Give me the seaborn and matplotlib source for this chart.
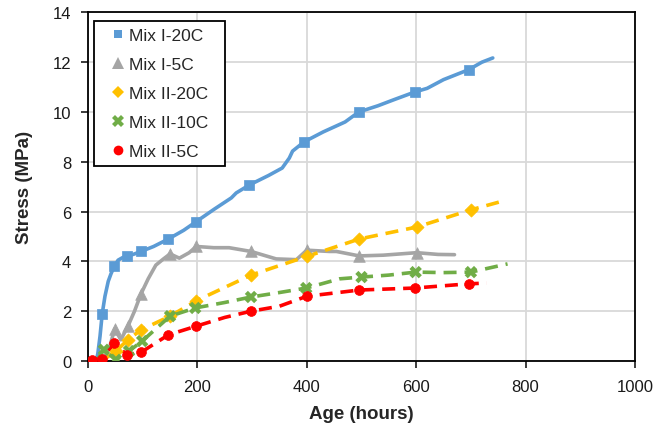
import matplotlib
matplotlib.use("Agg")
import matplotlib.pyplot as plt
from matplotlib.lines import Line2D
import seaborn as sns
import pandas as pd

# ---- data ----
# Mix I-20C (solid curve + square markers)
m1_20_h = [15, 18, 22, 26, 31, 37, 42, 48, 55, 63, 71, 85, 97, 120, 147, 175, 198, 231, 262, 271,
           295, 330, 355, 368, 374, 395, 430, 470, 495, 530, 560, 597, 620, 650, 696, 720, 740]
m1_20_s = [0.0, 0.3, 1.0, 1.9, 2.6, 3.2, 3.5, 3.8, 4.05, 4.15, 4.2, 4.3, 4.4, 4.6, 4.9, 5.25, 5.6, 6.1, 6.55, 6.75,
           7.07, 7.45, 7.75, 8.15, 8.43, 8.8, 9.2, 9.6, 10.0, 10.25, 10.5, 10.8, 10.95, 11.3, 11.7, 12.0, 12.17]
m1_20_mk_h = [26, 48, 71, 97, 147, 198, 295, 395, 495, 597, 696]
m1_20_mk_s = [1.9, 3.8, 4.2, 4.4, 4.9, 5.6, 7.07, 8.8, 10.0, 10.8, 11.7]

# Mix I-5C (solid curve + triangle markers)
m1_5_h = [22, 30, 40, 49, 60, 73, 85, 97, 110, 124, 138, 150, 167, 185, 198, 230, 258, 298, 344, 381,
          400, 441, 454, 496, 540, 601, 640, 670]
m1_5_s = [0.0, 0.15, 0.6, 1.3, 0.85, 1.4, 2.0, 2.7, 3.3, 3.85, 4.1, 4.3, 4.13, 4.35, 4.6, 4.55, 4.55, 4.4, 4.1, 4.07,
          4.45, 4.4, 4.4, 4.22, 4.25, 4.35, 4.28, 4.27]
m1_5_mk_h = [49, 73, 97, 150, 198, 298, 400, 496, 601]
m1_5_mk_s = [1.3, 1.4, 2.7, 4.3, 4.6, 4.4, 4.45, 4.22, 4.35]

# Mix II-20C (dashed + diamond markers)
m2_20_h = [25, 35, 51, 73, 97, 150, 198, 298, 400, 496, 601, 700, 751]
m2_20_s = [0.0, 0.15, 0.4, 0.85, 1.25, 1.8, 2.42, 3.45, 4.2, 4.9, 5.38, 6.07, 6.38]
m2_20_mk_h = [51, 73, 97, 150, 198, 298, 400, 496, 601, 700]
m2_20_mk_s = [0.4, 0.85, 1.25, 1.8, 2.42, 3.45, 4.2, 4.9, 5.38, 6.07]

# Mix II-10C (dashed + x markers)
m2_10_h = [15, 29, 51, 75, 99, 150, 196, 250, 298, 350, 399, 460, 500, 550, 599, 650, 700, 767]
m2_10_s = [0.0, 0.45, 0.05, 0.4, 0.8, 1.8, 2.13, 2.35, 2.57, 2.75, 2.93, 3.3, 3.37, 3.45, 3.57, 3.55, 3.57, 3.9]
m2_10_mk_h = [29, 51, 75, 99, 150, 196, 298, 399, 500, 599, 700]
m2_10_mk_s = [0.45, 0.05, 0.4, 0.8, 1.8, 2.13, 2.57, 2.93, 3.37, 3.57, 3.57]

# Mix II-5C (dashed + circle markers)
m2_5_h = [7, 26, 48, 71, 97, 147, 198, 250, 298, 350, 400, 496, 597, 696, 729]
m2_5_s = [0.05, 0.08, 0.72, 0.25, 0.35, 1.05, 1.4, 1.75, 2.0, 2.2, 2.6, 2.85, 2.93, 3.1, 3.13]
m2_5_mk_h = [7, 26, 48, 71, 97, 147, 198, 298, 400, 496, 597, 696]
m2_5_mk_s = [0.05, 0.08, 0.72, 0.25, 0.35, 1.05, 1.4, 2.0, 2.6, 2.85, 2.93, 3.1]

labels = ["Mix I-20C", "Mix I-5C", "Mix II-20C", "Mix II-10C", "Mix II-5C"]
x_ticks = [0, 200, 400, 600, 800, 1000]
y_ticks = [0, 2, 4, 6, 8, 10, 12, 14]

# ---- styling ----
sns.set_theme(style="white")
plt.rcParams["font.family"] = ["Liberation Sans", "DejaVu Sans"]

colors = ["#5B9BD5", "#A5A5A5", "#FFC000", "#70AD47", "#FF0000"]
markers = ["s", "^", "D", "X", "o"]
msizes = [50, 70, 45, 80, 50]
styles = ["-", "-", "--", "--", "--"]

series = [
    (m1_20_h, m1_20_s, m1_20_mk_h, m1_20_mk_s),
    (m1_5_h, m1_5_s, m1_5_mk_h, m1_5_mk_s),
    (m2_20_h, m2_20_s, m2_20_mk_h, m2_20_mk_s),
    (m2_10_h, m2_10_s, m2_10_mk_h, m2_10_mk_s),
    (m2_5_h, m2_5_s, m2_5_mk_h, m2_5_mk_s),
]

fig = plt.figure(figsize=(6.56, 4.27), dpi=100)
ax = fig.add_axes([88 / 656, 1 - 362 / 427, (635 - 88) / 656, (362 - 13.4) / 427])

for (h, s, mh, ms), c, m, sz, ls, lab in zip(series, colors, markers, msizes, styles, labels):
    df_line = pd.DataFrame({"h": h, "s": s})
    df_mk = pd.DataFrame({"h": mh, "s": ms})
    line_kw = dict(linewidth=2.6, color=c, sort=False, estimator=None, ax=ax)
    sns.lineplot(data=df_line, x="h", y="s", **line_kw)
    if ls == "--":
        ax.lines[-1].set_dashes((3.6, 2.2))
    sns.scatterplot(data=df_mk, x="h", y="s", marker=m, s=sz, color=c,
                    edgecolor=c if m != "X" else "none", linewidth=0.5, ax=ax, zorder=3)

ax.set_xlim(0, 1000)
ax.set_ylim(0, 14)
ax.set_xticks(x_ticks)
ax.set_yticks(y_ticks)
ax.tick_params(axis="both", labelsize=12, colors="#1a1a1a", direction="out", length=5, width=1.2,
               bottom=True, left=True)
ax.tick_params(axis="x", pad=8)
ax.tick_params(axis="y", pad=7)
ax.grid(True, color="#D9D9D9", linewidth=1.3)
ax.set_axisbelow(True)
for sp in ax.spines.values():
    sp.set_color("black")
    sp.set_linewidth(1.3)
    sp.set_visible(True)

ax.set_xlabel("Age (hours)", fontsize=13.5, fontweight="bold", labelpad=8)
ax.set_ylabel("Stress (MPa)", fontsize=13.5, fontweight="bold", labelpad=14)

handles = [Line2D([], [], linestyle="none", marker=m, color=c,
                  markersize=ms_, markeredgewidth=0)
           for m, c, ms_ in zip(markers, colors, [6, 8, 6.5, 8.5, 7])]
leg = ax.legend(handles, labels, loc="upper left", bbox_to_anchor=(0.011, 0.5, 0.2395, 0.475),
                mode="expand", borderaxespad=0,
                frameon=True, fancybox=False, edgecolor="black", framealpha=1, fontsize=12.5,
                handlelength=2.0, handletextpad=-0.4, borderpad=0.4, labelspacing=0.8)
leg.get_frame().set_linewidth(1.3)

fig.savefig("out.png", dpi=100)
